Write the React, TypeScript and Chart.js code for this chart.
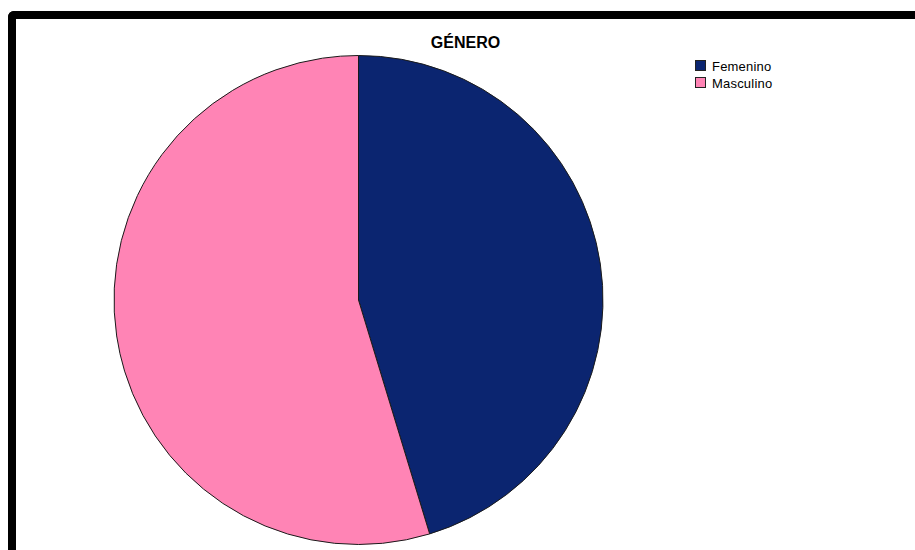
import React, { useEffect, useRef } from "react";
import { Chart, registerables } from "chart.js";

Chart.register(...registerables);

const title = "GÉNERO";
const categories = ["Femenino", "Masculino"];
const percentages = [45.3, 54.7];
const colors = ["#0B2570", "#FF84B5"];

export default function App() {
  const canvasRef = useRef<HTMLCanvasElement | null>(null);

  useEffect(() => {
    const canvas = canvasRef.current;
    if (!canvas) return;
    const chart = new Chart(canvas, {
      type: "pie",
      data: {
        labels: categories,
        datasets: [
          {
            data: percentages,
            backgroundColor: colors,
            borderColor: "#1a1a1a",
            borderWidth: 1,
          },
        ],
      },
      options: {
        responsive: false,
        animation: false,
        radius: 244.5,
        layout: { padding: 0 },
        plugins: {
          legend: { display: false },
          title: { display: false },
          tooltip: { enabled: false },
        },
      } as any,
    });
    return () => chart.destroy();
  }, []);

  const font = "'Liberation Sans', Arial, sans-serif";

  return (
    <div>
      <div
        style={{
          position: "absolute",
          left: 8,
          top: 11,
          width: 899,
          height: 531,
          borderTop: "8px solid #000",
          borderLeft: "8px solid #000",
          borderTopLeftRadius: 6,
          background: "#fff",
        }}
      />
      <div
        style={{
          position: "absolute",
          left: 16,
          top: 35,
          width: 899,
          textAlign: "center",
          fontFamily: font,
          fontWeight: "bold",
          fontSize: 16,
          lineHeight: "16px",
          color: "#000",
        }}
      >
        {title}
      </div>
      <canvas
        ref={canvasRef}
        width={501}
        height={500}
        style={{ position: "absolute", left: 108, top: 50, width: 501, height: 500 }}
      />
      {categories.map((c, i) => (
        <div
          key={c}
          style={{
            position: "absolute",
            left: 695,
            top: 60 + i * 17,
            height: 13,
            display: "flex",
            alignItems: "flex-start",
            fontFamily: font,
            fontSize: 13,
            lineHeight: "13px",
            color: "#000",
            whiteSpace: "nowrap",
          }}
        >
          <span
            style={{
              display: "inline-block",
              width: 9,
              height: 9,
              border: "1px solid #222",
              background: colors[i],
              marginRight: 6,
              marginTop: 0,
            }}
          />
          <span style={{ letterSpacing: "0.2px" }}>{c}</span>
        </div>
      ))}
    </div>
  );
}
